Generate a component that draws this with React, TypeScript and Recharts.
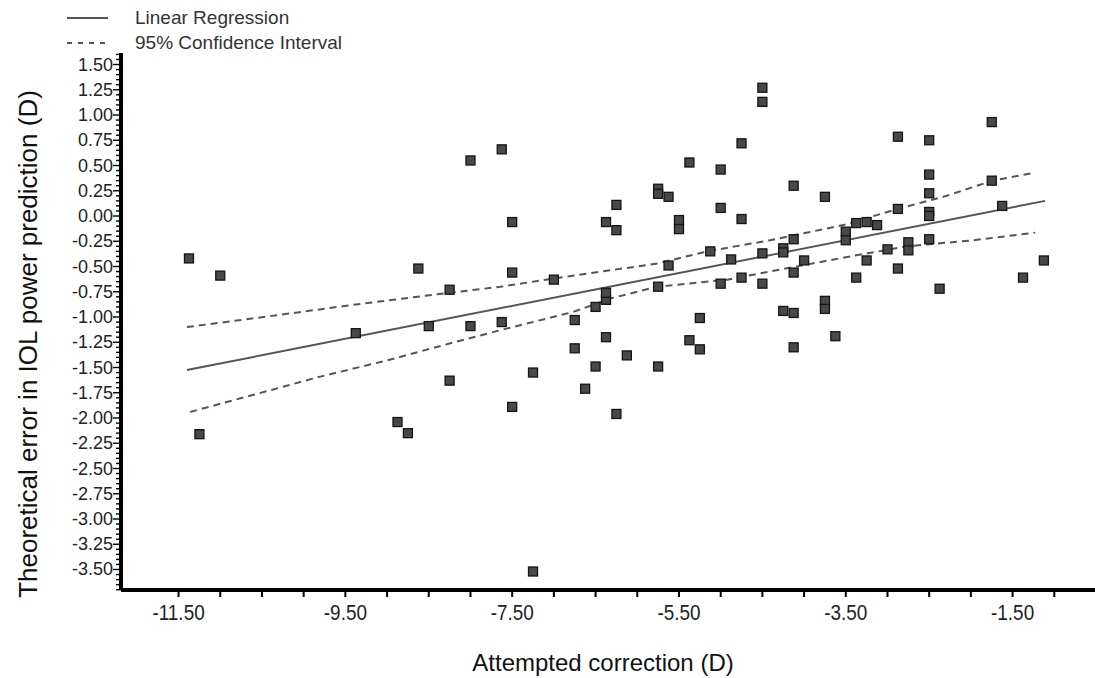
import React from "react";
import { ScatterChart, Scatter, XAxis, YAxis } from "recharts";

const W = 1096;
const H = 678;
const FONT = '"Liberation Sans", Arial, sans-serif';

// [attempted correction, theoretical error]
const points: [number, number][] = [
  [-11.375, -0.42], [-11.0, -0.59], [-11.25, -2.16], [-9.375, -1.16],
  [-8.875, -2.04], [-8.75, -2.15], [-8.625, -0.52], [-8.5, -1.09],
  [-8.25, -0.73], [-8.25, -1.63], [-8.0, 0.55], [-8.0, -1.09],
  [-7.625, -1.05], [-7.625, 0.66], [-7.5, -0.06], [-7.5, -0.56],
  [-7.5, -1.89], [-7.25, -1.55], [-7.25, -3.52], [-7.0, -0.63],
  [-6.75, -1.31], [-6.75, -1.03], [-6.625, -1.71], [-6.5, -0.9],
  [-6.5, -1.49], [-6.375, -0.06], [-6.375, -0.83], [-6.375, -1.2],
  [-6.375, -0.76], [-6.25, 0.11], [-6.25, -0.14], [-6.25, -1.96],
  [-6.125, -1.38], [-5.75, -1.49], [-5.75, 0.27], [-5.75, 0.22],
  [-5.75, -0.7], [-5.625, 0.19], [-5.625, -0.49], [-5.5, -0.04],
  [-5.5, -0.13], [-5.375, 0.53], [-5.375, -1.23], [-5.25, -1.01],
  [-5.25, -1.32], [-5.125, -0.35], [-5.0, 0.46], [-5.0, 0.08],
  [-5.0, -0.67], [-4.875, -0.43], [-4.75, 0.72], [-4.75, -0.03],
  [-4.75, -0.61], [-4.5, 1.27], [-4.5, 1.13], [-4.5, -0.37],
  [-4.5, -0.67], [-4.25, -0.32], [-4.25, -0.36], [-4.25, -0.94],
  [-4.125, 0.3], [-4.125, -0.23], [-4.125, -0.56], [-4.125, -0.96],
  [-4.125, -1.3], [-4.0, -0.44], [-3.75, 0.19], [-3.75, -0.84],
  [-3.75, -0.92], [-3.625, -1.19], [-3.5, -0.155], [-3.5, -0.24],
  [-3.375, -0.07], [-3.375, -0.61], [-3.25, -0.06], [-3.25, -0.44],
  [-3.125, -0.09], [-3.0, -0.33], [-2.875, 0.785], [-2.875, 0.07],
  [-2.875, -0.52], [-2.75, -0.26], [-2.75, -0.34], [-2.5, 0.75],
  [-2.5, 0.41], [-2.5, 0.225], [-2.5, 0.04], [-2.5, 0.0],
  [-2.5, -0.23], [-2.375, -0.72], [-1.75, 0.93], [-1.75, 0.35],
  [-1.625, 0.1], [-1.375, -0.61], [-1.125, -0.44],
];

const regressionX = [-11.4, -1.11];
const regressionY = [-1.525, 0.15];

const ciUpperX = [-11.4, -10.48, -9.41, -8.45, -7.64, -7.01, -5.76, -5.16, -4.41, -3.53, -2.88, -2.33, -1.74, -1.23];
const ciUpperY = [-1.1, -1.0, -0.88, -0.78, -0.7, -0.62, -0.47, -0.35, -0.24, -0.09, 0.07, 0.19, 0.35, 0.43];
const ciLowerX = [-11.36, -10.6, -9.8, -9.0, -8.24, -7.64, -6.77, -6.29, -5.76, -4.92, -4.41, -3.45, -2.76, -1.97, -1.23];
const ciLowerY = [-1.94, -1.77, -1.59, -1.43, -1.26, -1.13, -0.95, -0.81, -0.7, -0.63, -0.55, -0.4, -0.3, -0.24, -0.165];

const xLabelTicks = [-11.5, -9.5, -7.5, -5.5, -3.5, -1.5];
const yLabelTicks = [1.5, 1.25, 1.0, 0.75, 0.5, 0.25, 0, -0.25, -0.5, -0.75, -1.0, -1.25, -1.5, -1.75, -2.0, -2.25, -2.5, -2.75, -3.0, -3.25, -3.5];

const xDomain: [number, number] = [-12.19, -0.5];
const yDomain: [number, number] = [-3.703, 1.614];

// minor tick marks: every 0.5 on x, every 0.05 on y
const xTicks: number[] = [];
for (let i = -23; i <= -2; i++) xTicks.push(i * 0.5);
const yTicks: number[] = [];
for (let i = -74; i <= 32; i++) yTicks.push(Math.round(i * 5) / 100);

const pairs = (xs: number[], ys: number[]) => xs.map((x, i) => ({ x, y: ys[i] }));
const pointData = points.map(([x, y]) => ({ x, y }));

const isLabel = (list: number[], v: number) => list.some((t) => Math.abs(t - v) < 1e-6);

const XTick = ({ x, y, payload }: any) => {
  const v = payload.value;
  return (
    <g>
      <line x1={x} x2={x} y1={y} y2={y + 7} stroke="#000" strokeWidth={2} />
      {isLabel(xLabelTicks, v) && (
        <text
          x={0}
          y={0}
          transform={`translate(${x} ${y + 22}) scale(0.86 1)`}
          textAnchor="middle"
          dominantBaseline="central"
          fontFamily={FONT}
          fontSize={22}
          fill="#222"
        >
          {v.toFixed(2)}
        </text>
      )}
    </g>
  );
};

const YTick = ({ x, y, payload }: any) => {
  const v = payload.value;
  const major = isLabel(yLabelTicks, v);
  return (
    <g>
      <line x1={x - (major ? 8 : 5)} x2={x} y1={y} y2={y} stroke="#000" strokeWidth={1.4} />
      {major && (
        <text x={x - 8} y={y} textAnchor="end" dominantBaseline="central" fontFamily={FONT} fontSize={18} fill="#222">
          {v.toFixed(2)}
        </text>
      )}
    </g>
  );
};

const Square = ({ cx, cy }: any) => (
  <rect x={cx - 4.5} y={cy - 4.5} width={9} height={9} fill="#484848" stroke="#151515" strokeWidth={1.3} />
);
const NoDot = () => <g />;

export default function App() {
  return (
    <div style={{ position: "absolute", left: 0, top: 0, width: 1095, height: H, overflow: "hidden", background: "#fff" }}>
      <ScatterChart width={W} height={H} margin={{ top: 53, right: 0, bottom: 0, left: 0 }}>
        <XAxis
          type="number"
          dataKey="x"
          domain={xDomain}
          ticks={xTicks}
          interval={0}
          height={88}
          tickSize={0}
          tickMargin={0}
          tickLine={false}
          tick={<XTick />}
          axisLine={{ stroke: "#000", strokeWidth: 4 }}
          allowDataOverflow
          label={{
            content: () => (
              <text x={603} y={662} textAnchor="middle" dominantBaseline="central" fontFamily={FONT} fontSize={24} fill="#111">
                Attempted correction (D)
              </text>
            ),
          }}
        />
        <YAxis
          type="number"
          dataKey="y"
          domain={yDomain}
          ticks={yTicks}
          interval={0}
          width={121}
          tickSize={0}
          tickMargin={0}
          tickLine={false}
          tick={<YTick />}
          axisLine={{ stroke: "#000", strokeWidth: 4 }}
          allowDataOverflow
          label={{
            content: () => (
              <text x={28} y={344} transform="rotate(-90 28 344)" textAnchor="middle" dominantBaseline="central" fontFamily={FONT} fontSize={26} fill="#111">
                Theoretical error in IOL power prediction (D)
              </text>
            ),
          }}
        />
        <Scatter data={pairs(ciUpperX, ciUpperY)} line={{ stroke: "#555", strokeWidth: 2, strokeDasharray: "7 5" }} shape={<NoDot />} isAnimationActive={false} />
        <Scatter data={pairs(ciLowerX, ciLowerY)} line={{ stroke: "#555", strokeWidth: 2, strokeDasharray: "7 5" }} shape={<NoDot />} isAnimationActive={false} />
        <Scatter data={pairs(regressionX, regressionY)} line={{ stroke: "#555", strokeWidth: 2 }} shape={<NoDot />} isAnimationActive={false} />
        <Scatter data={pointData} shape={<Square />} isAnimationActive={false} />
      </ScatterChart>

      <div style={{ position: "absolute", left: 0, top: 0, fontFamily: FONT, fontSize: 19, color: "#333" }}>
        <svg width={120} height={56} style={{ position: "absolute", left: 0, top: 0 }}>
          <line x1={67} x2={108} y1={18} y2={18} stroke="#555" strokeWidth={2} />
          <line x1={67} x2={108} y1={43} y2={43} stroke="#555" strokeWidth={2} strokeDasharray="5 6" />
        </svg>
        <div style={{ position: "absolute", left: 135, top: 6, whiteSpace: "nowrap", lineHeight: "24px" }}>Linear Regression</div>
        <div style={{ position: "absolute", left: 135, top: 31, whiteSpace: "nowrap", lineHeight: "24px" }}>95% Confidence Interval</div>
      </div>
    </div>
  );
}
